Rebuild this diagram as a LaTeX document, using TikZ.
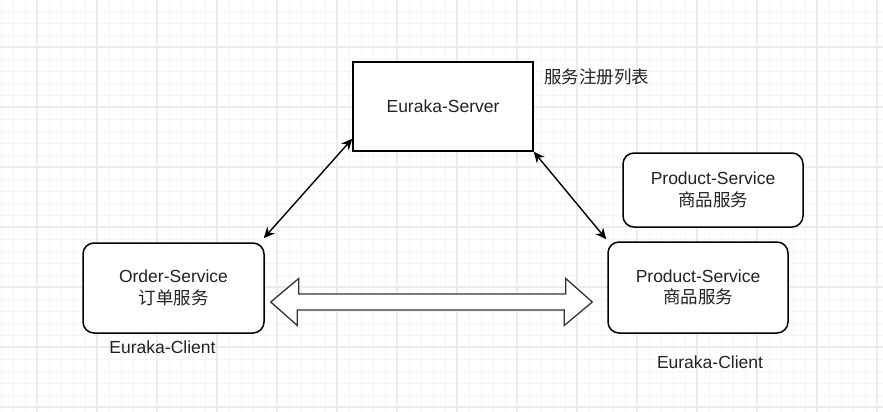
\documentclass[tikz,border=0pt]{standalone}
\usepackage{fontspec}
\setmainfont{Liberation Sans}
\newfontfamily\cjk{Noto Sans CJK SC}
\usetikzlibrary{arrows.meta}
\definecolor{inkgray}{HTML}{222222}
\tikzset{
  gridminor/.style = {color=black!4, line width=0.6},
  gridmajor/.style = {color=black!8, line width=1.2},
  server/.style = {draw, line width=1.5, fill=white,
                   minimum width=180pt, minimum height=89pt},
  client/.style = {draw, line width=1.5, fill=white, rounded corners=11pt,
                   minimum width=#1, align=center, text=inkgray},
  client/.default = 180pt,
  caption/.style = {text=inkgray, inner sep=0pt},
  link/.style = {{Stealth[length=11pt,width=10pt]}-{Stealth[length=11pt,width=10pt]},
                 line width=1.4},
  fatarrow/.style = {draw=black!80, line width=1.3, fill=white}
}

\begin{document}
\begin{tikzpicture}[x=1pt, y=-1pt, font=\fontsize{17.5}{21.5}\selectfont]
	\useasboundingbox (0,0) rectangle (883,412);
	\fill[white] (0,0) rectangle (883,412);
	
	% Grid
	\begin{scope}[shift={(37,47)}]
		\draw[gridminor, step=12pt] (-37,-47) grid (846,365);
		\draw[gridmajor, step=60pt] (-37,-47) grid (846,365);
	\end{scope}
	
	% Registry
	\node[server, text=inkgray] (server) at (443,106.5) {Euraka-Server};
	\node[caption] (registry) at (596.5,77) {\cjk 服务注册列表};
	
	% Services
	\node[client=181pt, minimum height=90pt] (order) at (173.5,288) {Order-Service\\{\cjk 订单服务}};
	\node[client, minimum height=91pt] (product) at (698,287.5) {Product-Service\\{\cjk 商品服务}};
	\node[client, minimum height=74pt] (productb) at (713,190) {Product-Service\\{\cjk 商品服务}};
	
	% Client labels
	\node[caption] (orderclient) at (162.5,347) {Euraka-Client};
	\node[caption] (productclient) at (710,362) {Euraka-Client};
	
	% Registration
	\coordinate (srvL) at ([yshift=13pt]server.south west);
	\coordinate (ordT) at ([shift={(-1pt,4pt)}]order.north east);
	\coordinate (prdT) at ([shift={(-1pt,2pt)}]product.north west);
	\draw[link] (srvL) -- (ordT);
	\draw[link] (server.south east) -- (prdT);
	
	% Call between services
	\coordinate (l) at ([xshift=6pt]order.east |- 0,302);
	\coordinate (r) at ([xshift=-15pt]product.west |- 0,302);
	\draw[fatarrow] (l) -- ++(28,-23.5) -- ++(0,15.5) -- ++(267,0) -- ++(0,-15.5)
		-- (r) -- ++(-28,23.5) -- ++(0,-15.5) -- ++(-267,0) -- ++(0,15.5) -- cycle;
	
\end{tikzpicture}
\end{document}
